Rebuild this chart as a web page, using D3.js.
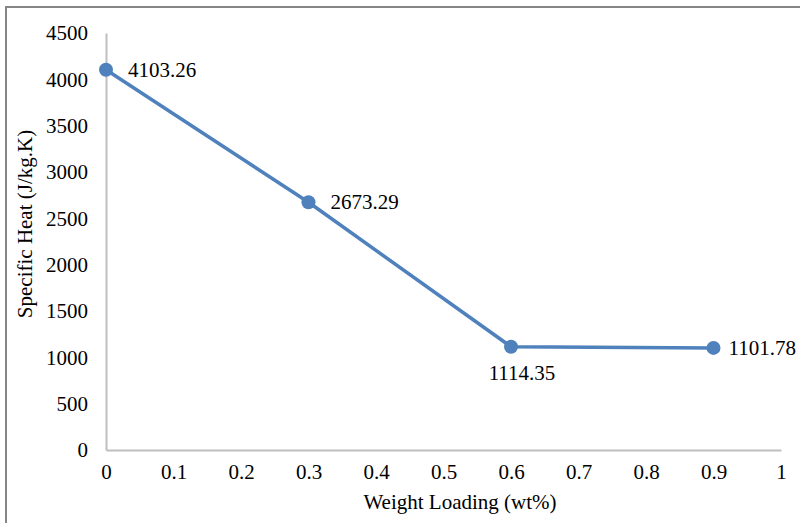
<!DOCTYPE html>
<html>
<head>
<meta charset="utf-8">
<script src="https://cdn.jsdelivr.net/npm/d3@7"></script>
<style>
  html, body { margin: 0; padding: 0; background: #fff; }
  svg { display: block; }
  text { font-family: "Liberation Serif", "Times New Roman", serif; fill: #000; }
</style>
</head>
<body>
<svg id="chart" width="800" height="523"></svg>
<script>
// Specific heat vs. weight loading
const loadings = [0, 0.3, 0.6, 0.9];
const specificHeat = [4103.26, 2673.29, 1114.35, 1101.78];
const labelPlacement = ["right", "right", "below", "right"];

const xTicks = [0, 0.1, 0.2, 0.3, 0.4, 0.5, 0.6, 0.7, 0.8, 0.9, 1];
const yTicks = [0, 500, 1000, 1500, 2000, 2500, 3000, 3500, 4000, 4500];

const xTitle = "Weight Loading (wt%)";
const yTitle = "Specific Heat (J/kg.K)";

const svg = d3.select("#chart");
const W = 800, H = 523;
const plotLeft = 106, plotRight = 781, plotTop = 33, plotBottom = 450;
const blue = "#4f81bd";
const fontSize = 21;

// outer frame
svg.append("rect")
  .attr("x", 6).attr("y", 7)
  .attr("width", W + 10).attr("height", H + 10)
  .attr("fill", "none").attr("stroke", "#868686").attr("stroke-width", 2);

const x = d3.scaleLinear().domain([0, 1]).range([plotLeft, plotRight]);
const y = d3.scaleLinear().domain([0, 4500]).range([plotBottom, plotTop]);

// y axis
const yAxis = svg.append("g")
  .attr("transform", `translate(${plotLeft},0)`)
  .call(d3.axisLeft(y).tickValues(yTicks).tickSize(0).tickPadding(18).tickFormat(d3.format("d")));
yAxis.select(".domain").attr("stroke", "#bfbfbf").attr("stroke-width", 2);
yAxis.selectAll("text").attr("font-size", fontSize).attr("font-family", "Liberation Serif").attr("fill", "#000");

// x axis
const xAxis = svg.append("g")
  .attr("transform", `translate(0,${plotBottom})`)
  .call(d3.axisBottom(x).tickValues(xTicks).tickSize(0).tickPadding(14).tickFormat(d => String(d)));
xAxis.select(".domain").attr("stroke", "#bfbfbf").attr("stroke-width", 2);
xAxis.selectAll("text").attr("font-size", fontSize).attr("font-family", "Liberation Serif").attr("fill", "#000");

// axis titles
svg.append("text")
  .attr("x", 460).attr("y", 509)
  .attr("text-anchor", "middle")
  .attr("font-size", fontSize)
  .text(xTitle);

svg.append("text")
  .attr("transform", "translate(32,224) rotate(-90)")
  .attr("text-anchor", "middle")
  .attr("font-size", fontSize)
  .text(yTitle);

const pts = loadings.map((l, i) => ({ x: l, y: specificHeat[i], pos: labelPlacement[i], i }));

// series line
svg.append("path")
  .datum(pts)
  .attr("fill", "none")
  .attr("stroke", blue)
  .attr("stroke-width", 3.5)
  .attr("stroke-linejoin", "round")
  .attr("d", d3.line().x(d => x(d.x)).y(d => y(d.y)));

// markers
svg.selectAll("circle.pt")
  .data(pts)
  .join("circle")
  .attr("class", "pt")
  .attr("cx", d => x(d.x))
  .attr("cy", d => y(d.y))
  .attr("r", 7)
  .attr("fill", blue);

// value labels
svg.selectAll("text.val")
  .data(pts)
  .join("text")
  .attr("class", "val")
  .attr("font-size", fontSize)
  .attr("x", d => x(d.x) + (d.pos === "below" ? 11 : (d.i === 3 ? 15 : 22)))
  .attr("y", d => d.pos === "below" ? y(d.y) + 33 : y(d.y) + 7)
  .attr("text-anchor", d => d.pos === "below" ? "middle" : "start")
  .text(d => d3.format(".2f")(d.y));
</script>
</body>
</html>
